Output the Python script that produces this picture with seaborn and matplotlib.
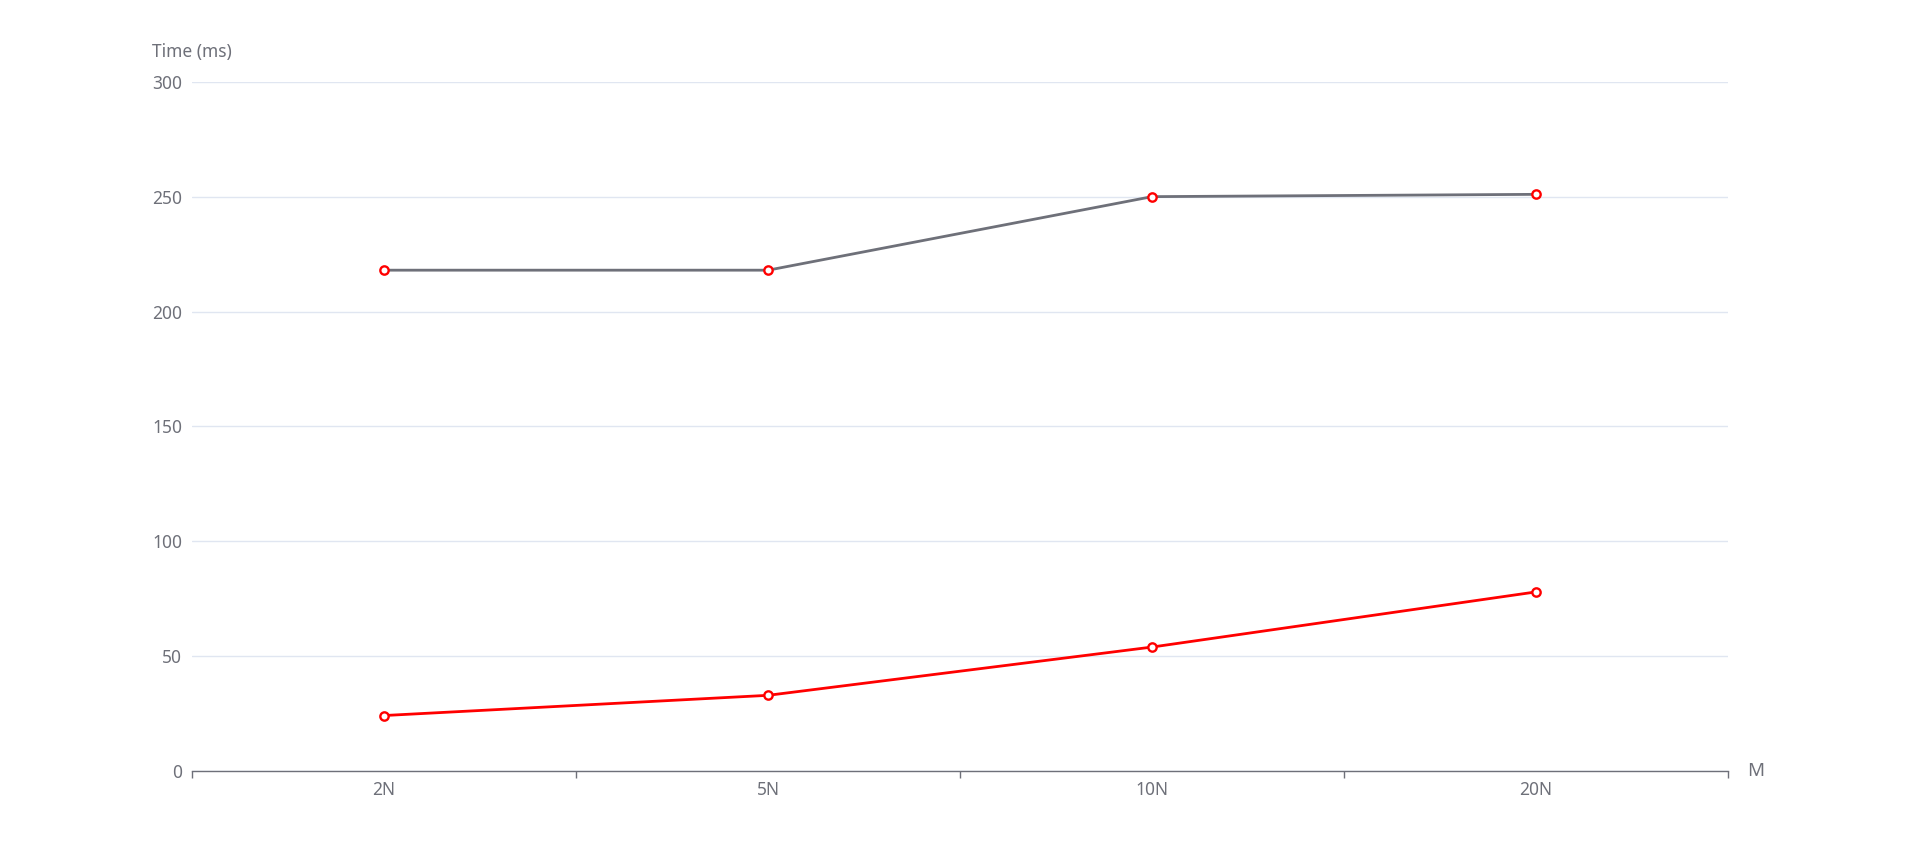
import matplotlib
matplotlib.use("Agg")
import matplotlib.pyplot as plt
import seaborn as sns
import pandas as pd
import numpy as np

categories = ["2N", "5N", "10N", "20N"]
series_gray = [218, 218, 250, 251]
series_red = [24.2, 33, 54, 78]
y_ticks = [0, 50, 100, 150, 200, 250, 300]

sns.set_theme(style="white")
plt.rcParams['font.family'] = ['Noto Sans', 'DejaVu Sans']

TXT = "#6E7079"
GRID = "#E0E6F1"

fig = plt.figure(figsize=(19.19, 8.65), dpi=100)
ax = fig.add_axes([0.1001, 0.1085, 0.8004, 0.7970])

df = pd.DataFrame({
    "cat": categories * 2,
    "val": series_gray + series_red,
    "series": ["gray"] * len(categories) + ["red"] * len(categories),
})

sns.lineplot(data=df, x="cat", y="val", hue="series",
             palette={"gray": "#6E7079", "red": "#FF0000"},
             linewidth=2, legend=False, ax=ax, sort=False, zorder=3)
for s in ["gray", "red"]:
    sub = df[df.series == s]
    ax.plot(sub["cat"], sub["val"], linestyle="none", marker="o",
            markersize=6, markerfacecolor="white", markeredgecolor="#FF0000",
            markeredgewidth=1.7, zorder=4)

ax.set_xlim(-0.5, len(categories) - 0.5)
ax.set_ylim(0, 300)
ax.set_yticks(y_ticks)
ax.set_yticklabels([str(t) for t in y_ticks])
ax.yaxis.grid(True, color=GRID, linewidth=1)
ax.xaxis.grid(False)
for sp in ["top", "right", "left"]:
    ax.spines[sp].set_visible(False)
ax.spines["bottom"].set_color(TXT)
ax.spines["bottom"].set_linewidth(1)
ax.tick_params(axis="y", length=0, pad=7, labelsize=12.5, labelcolor=TXT)

# category labels at centers, tick marks at boundaries
ax.set_xticks(np.arange(-0.5, len(categories), 1.0))
ax.set_xticklabels([""] * (len(categories) + 1))
ax.tick_params(axis="x", which="major", length=5, width=1, color=TXT, direction="out", bottom=True)
ax.set_xticks(np.arange(len(categories)), minor=True)
ax.set_xticklabels(categories, minor=True)
ax.tick_params(axis="x", which="minor", length=0, pad=7, labelsize=12.5, labelcolor=TXT)
ax.set_xlabel("")
ax.set_ylabel("")

ax.text(0.0, 1.03, "Time (ms)", transform=ax.transAxes, ha="center", va="bottom",
        fontsize=12.5, color=TXT)
ax.text(1.0125, 0.0, "M", transform=ax.transAxes, ha="left", va="center",
        fontsize=13.5, color=TXT)

fig.savefig("out.png", dpi=100, facecolor="white")
